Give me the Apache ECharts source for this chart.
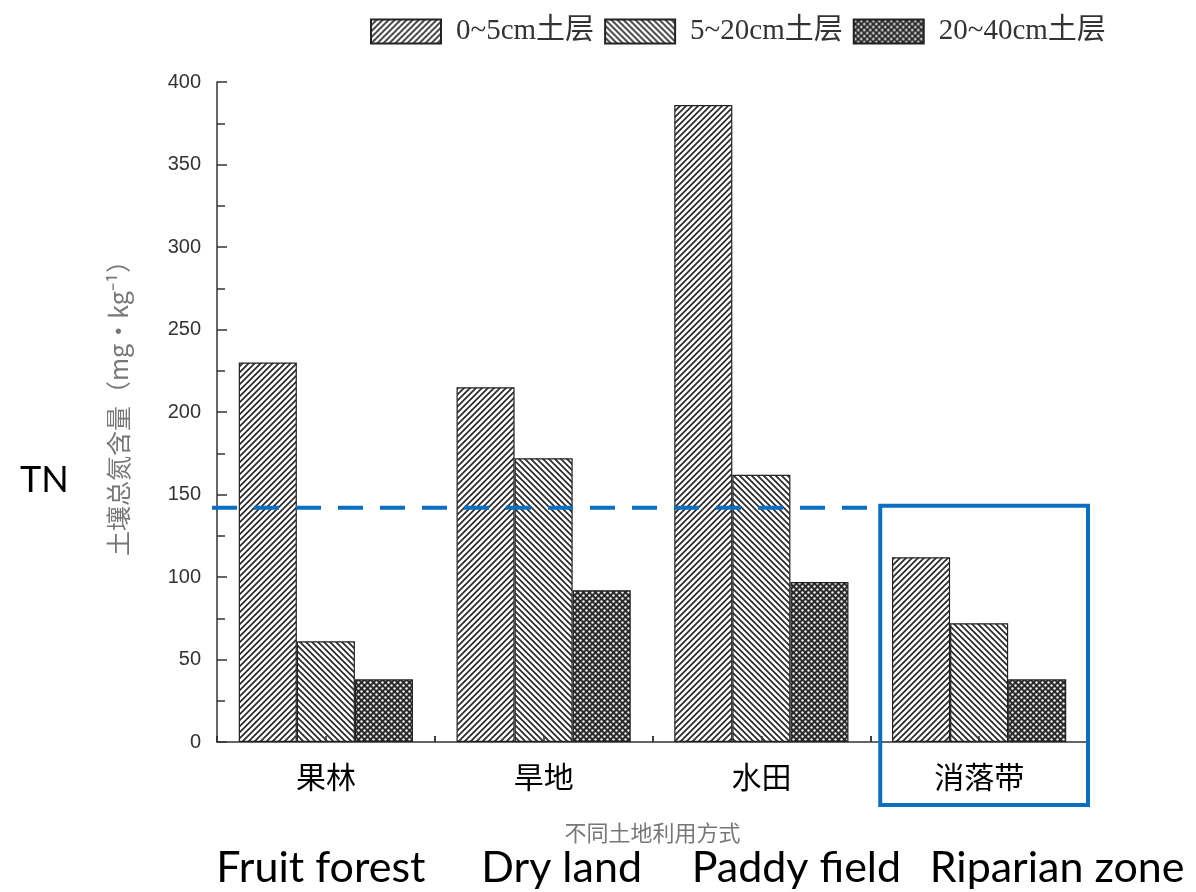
<!DOCTYPE html>
<html><head><meta charset="utf-8">
<script src="https://cdn.jsdelivr.net/npm/echarts@6/dist/echarts.min.js"></script>
<style>html,body{margin:0;padding:0;background:#fff}#c{width:1196px;height:892px}</style>
</head><body><div id="c"></div>
<script>
const categories = ['果林', '旱地', '水田', '消落带'];
const englishLabels = ['Fruit forest', 'Dry land', 'Paddy field', 'Riparian zone'];
const seriesNames = ['0~5cm土层', '5~20cm土层', '20~40cm土层'];
const layer0to5 = [230, 215, 386, 112];
const layer5to20 = [61, 172, 162, 72];
const layer20to40 = [38, 92, 97, 38];
const tnValue = 142;
const yTicks = [0, 50, 100, 150, 200, 250, 300, 350, 400];

function makePattern(kind) {
  const s = 6;
  const c = document.createElement('canvas');
  c.width = s; c.height = s;
  const ctx = c.getContext('2d');
  if (kind === 'dots') {
    ctx.fillStyle = '#2a2a2a';
    ctx.fillRect(0, 0, s, s);
    ctx.fillStyle = '#f4f4f4';
    ctx.beginPath(); ctx.arc(1.5, 1.5, 1.2, 0, Math.PI * 2); ctx.fill();
    ctx.beginPath(); ctx.arc(4.5, 4.5, 1.2, 0, Math.PI * 2); ctx.fill();
    return c;
  }
  ctx.fillStyle = '#ffffff';
  ctx.fillRect(0, 0, s, s);
  ctx.strokeStyle = '#2a2a2a';
  ctx.lineWidth = 1.7;
  ctx.beginPath();
  if (kind === 'fwd') {
    ctx.moveTo(0, s); ctx.lineTo(s, 0);
    ctx.moveTo(-1, 1); ctx.lineTo(1, -1);
    ctx.moveTo(s - 1, s + 1); ctx.lineTo(s + 1, s - 1);
  } else {
    ctx.moveTo(0, 0); ctx.lineTo(s, s);
    ctx.moveTo(-1, s - 1); ctx.lineTo(1, s + 1);
    ctx.moveTo(s - 1, -1); ctx.lineTo(s + 1, 1);
  }
  ctx.stroke();
  return c;
}
const patterns = [makePattern('fwd'), makePattern('back'), makePattern('dots')];
const dataSets = [layer0to5, layer5to20, layer20to40];

const chart = echarts.init(document.getElementById('c'));
const gridPos = {left: 217, right: 108, top: 82, bottom: 150};
const option = {
  backgroundColor: '#fff',
  animation: false,
  legend: {
    top: 12, left: 365,
    icon: 'rect',
    itemWidth: 70, itemHeight: 24, itemGap: 10,
    textStyle: {fontFamily: 'Liberation Serif, Noto Sans CJK SC', fontSize: 29, color: '#333', padding: [0, 0, 0, 10]},
    data: seriesNames
  },
  grid: [Object.assign({}, gridPos), Object.assign({}, gridPos)],
  xAxis: [{
    type: 'category', gridIndex: 0, data: categories,
    axisLine: {lineStyle: {color: '#333', width: 1.5}},
    axisTick: {show: true, inside: true, length: 6, interval: 0, lineStyle: {color: '#333', width: 1.5}},
    axisLabel: {color: '#000', fontSize: 30, fontFamily: 'Noto Sans CJK SC', margin: 20},
    name: '不同土地利用方式', nameLocation: 'middle', nameGap: 80,
    nameTextStyle: {color: '#777', fontSize: 22, fontFamily: 'Noto Sans CJK SC'}
  }, {
    type: 'category', gridIndex: 1, data: ['a','b','c','d','e','f','g','h'], z: 10,
    axisLine: {show: false},
    axisTick: {show: true, inside: true, length: 6, interval: 0, lineStyle: {color: '#333', width: 1.5}},
    axisLabel: {show: false}
  }],
  yAxis: [{
    type: 'value', gridIndex: 0, min: yTicks[0], max: yTicks[yTicks.length - 1], interval: 50,
    axisLine: {show: true, lineStyle: {color: '#333', width: 1.5}},
    axisTick: {show: true, inside: true, length: 10, lineStyle: {color: '#333', width: 1.5}},
    minorTick: {show: true, splitNumber: 2, length: 8, lineStyle: {color: '#333', width: 1.5}},
    splitLine: {show: false},
    axisLabel: {color: '#333', fontSize: 20, fontFamily: 'Liberation Sans', margin: 16},
    name: '土壤总氮含量（mg·kg⁻¹）', nameLocation: 'middle', nameGap: 86, nameRotate: 90,
    nameTextStyle: {color: '#777', fontSize: 25, fontFamily: 'Noto Sans CJK SC', padding: [0, 0, 0, 20]}
  }, {
    type: 'value', gridIndex: 1, min: 0, max: 400, show: false
  }],
  series: seriesNames.map((name, i) => ({
    name: name, type: 'bar', xAxisIndex: 0, yAxisIndex: 0,
    data: dataSets[i],
    barGap: '0%', barCategoryGap: '20%',
    itemStyle: {color: {image: patterns[i], repeat: 'repeat'}, borderColor: '#222', borderWidth: 1.2}
  }))
};
chart.setOption(option);

// annotations computed from the axes
const yTN = chart.convertToPixel({yAxisIndex: 0}, tnValue);
const xPaddy = chart.convertToPixel({xAxisIndex: 0}, categories[2]);
const xRip = chart.convertToPixel({xAxisIndex: 0}, categories[3]);
const half = (xRip - xPaddy) / 2;
const axisLeft = gridPos.left;
const axisRight = 1196 - gridPos.right;
const y0 = chart.convertToPixel({yAxisIndex: 0}, 0);
const blue = '#0B6FC1';
const gfx = [
  {type: 'line', shape: {x1: axisLeft - 5, y1: yTN, x2: xPaddy + half - 2, y2: yTN},
   style: {stroke: blue, lineWidth: 4, lineDash: [25, 17]}, z: 100},
  {type: 'rect', shape: {x: xRip - half + 10, y: yTN - 2, width: axisRight - (xRip - half + 10), height: (y0 + 63) - (yTN - 2)},
   style: {fill: 'none', stroke: blue, lineWidth: 4}, z: 100},
  {type: 'text', left: 20, top: 462, style: {text: 'TN', font: '36px Lato', fill: '#000'}}
];
englishLabels.forEach((t, i) => {
  const cx = chart.convertToPixel({xAxisIndex: 0}, categories[i]);
  const offsets = [-5, 18, 35, 78];
  gfx.push({type: 'text', x: cx + offsets[i], y: 868,
    style: {text: t, font: '43px Lato', fill: '#000', align: 'center', verticalAlign: 'middle'}});
});
chart.setOption({graphic: gfx});
</script>
</body></html>
